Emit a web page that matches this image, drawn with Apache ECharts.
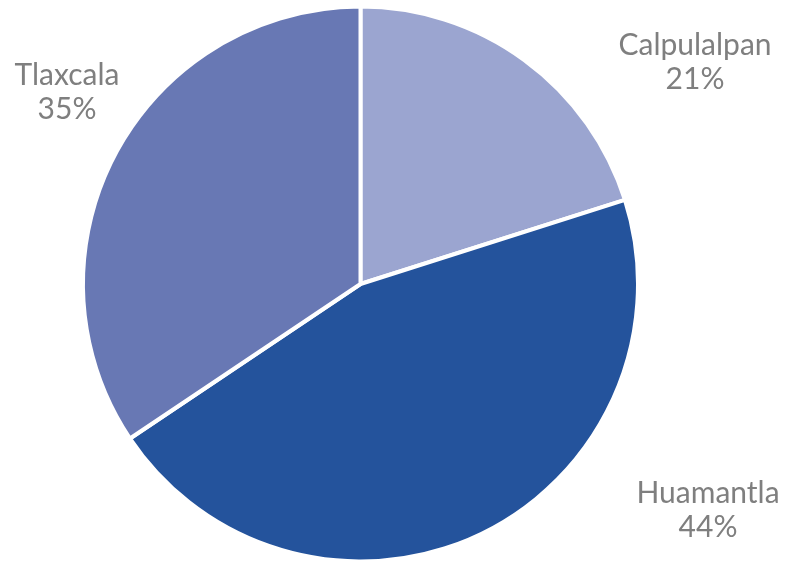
<!DOCTYPE html>
<html lang="es">
<head>
    <meta charset="UTF-8">
    <title>Pie</title>
    <style>
        * { padding: 0; margin: 0; }
        body { background: #fff; }
    </style>
    <script type="text/javascript" src="https://cdn.jsdelivr.net/npm/echarts@6/dist/echarts.min.js"></script>
</head>
<body>
    <div id="main" style="width: 785px;height:563px;"></div>
    <script type="text/javascript">
        // datos (tamaño de las rebanadas)
        var categories = ["Calpulalpan", "Huamantla", "Tlaxcala"];
        var values = [20.1, 45.5, 34.4];
        // porcentajes tal como aparecen en las etiquetas
        var pctLabels = ["21%", "44%", "35%"];
        var colors = ["#9ba5d0", "#24539c", "#6878b4"];

        // posiciones de las etiquetas (centro del bloque de texto)
        var labelPos = [[695, 62], [708, 510], [67, 92]];

        var myChart = echarts.init(document.getElementById('main'));

        var option = {
            animation: false,
            series: [{
                type: 'pie',
                center: [360.5, 284],
                radius: 277.5,
                startAngle: 90,
                clockwise: true,
                data: categories.map(function (c, i) {
                    return { name: c, value: values[i], itemStyle: { color: colors[i] } };
                }),
                itemStyle: {
                    borderColor: "#fff",
                    borderWidth: 4
                },
                label: {
                    show: true,
                    formatter: function (p) {
                        return p.name + "\n" + pctLabels[p.dataIndex];
                    },
                    color: "#7f7f7f",
                    fontFamily: "Lato",
                    fontSize: 30,
                    lineHeight: 34,
                    align: "center",
                    overflow: "none"
                },
                labelLine: { show: false },
                labelLayout: function (params) {
                    var p = labelPos[params.dataIndex];
                    return { x: p[0], y: p[1], align: "center", verticalAlign: "middle" };
                }
            }]
        };

        myChart.setOption(option);
    </script>
</body>
</html>
